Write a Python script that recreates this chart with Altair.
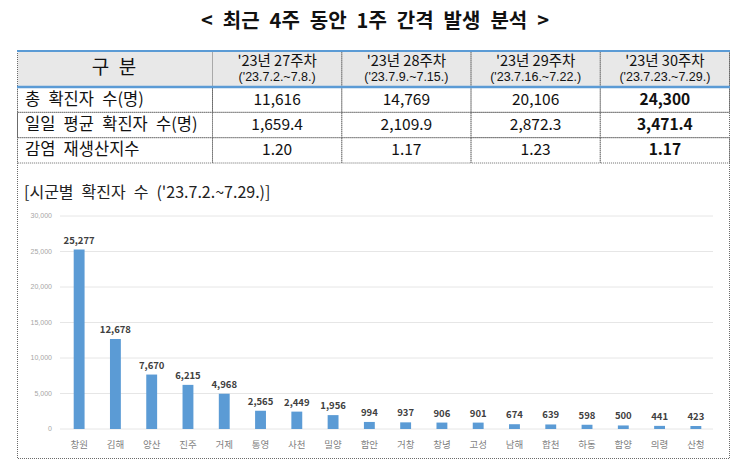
import altair as alt
import pandas as pd

# ---------------- data ----------------
SP = "\u2002"  # wide word space as in the source document
title_text = SP.join(["<", "최근", "4주", "동안", "1주", "간격", "발생", "분석", ">"])
header_label = "구" + SP + "분"
weeks = ["'23년 27주차", "'23년 28주차", "'23년 29주차", "'23년 30주차"]
week_ranges = ["('23.7.2.~7.8.)", "('23.7.9.~7.15.)", "('23.7.16.~7.22.)", "('23.7.23.~7.29.)"]
row_labels = [SP.join(["총", "확진자", "수(명)"]),
              SP.join(["일일", "평균", "확진자", "수(명)"]),
              SP.join(["감염", "재생산지수"])]
total_cases = [11616, 14769, 20106, 24300]
daily_avg = [1659.4, 2109.9, 2872.3, 3471.4]
rt_values = [1.20, 1.17, 1.23, 1.17]

subtitle_text = SP.join(["[시군별", "확진자", "수", "('23.7.2.~7.29.)]"])
cities = ["창원", "김해", "양산", "진주", "거제", "통영", "사천", "밀양", "함안",
          "거창", "창녕", "고성", "남해", "합천", "하동", "함양", "의령", "산청"]
city_cases = [25277, 12678, 7670, 6215, 4968, 2565, 2449, 1956, 994,
              937, 906, 901, 674, 639, 598, 500, 441, 423]
y_ticks = [0, 5000, 10000, 15000, 20000, 25000, 30000]

# ---------------- tables ----------------
FONT = "Noto Sans CJK KR"
weeks_df = pd.DataFrame({"week": weeks, "range": week_ranges})
rows = []
for i, w in enumerate(weeks):
    rows.append({"week": w, "row": row_labels[0], "txt": f"{total_cases[i]:,d}", "bold": i == 3})
    rows.append({"week": w, "row": row_labels[1], "txt": f"{daily_avg[i]:,.1f}", "bold": i == 3})
    rows.append({"week": w, "row": row_labels[2], "txt": f"{rt_values[i]:.2f}", "bold": i == 3})
cells_df = pd.DataFrame(rows)
rows_df = pd.DataFrame({"row": row_labels})
one = pd.DataFrame({"a": [0]})
city_df = pd.DataFrame({"city": cities, "cases": city_cases})
ticks_df = pd.DataFrame({"tick": y_ticks})

wk_scale = alt.Scale(domain=weeks, range=[212.5, 729.5], paddingInner=0, paddingOuter=0)
row_scale = alt.Scale(domain=row_labels, range=[87, 163], paddingInner=0, paddingOuter=0)
city_scale = alt.Scale(domain=cities, range=[61, 714], paddingInner=0.7, paddingOuter=0.35)
val_scale = alt.Scale(domain=[0, 30000], range=[429, 216])

WX = alt.X("week:N", scale=wk_scale, axis=None)
RY = alt.Y("row:N", scale=row_scale, axis=None)
CX = alt.X("city:N", scale=city_scale, axis=None)

DOT = dict(stroke="#6b6b6b", strokeDash=[1, 1], strokeWidth=1, fillOpacity=0)

title = alt.Chart(one).mark_text(text=title_text, font=FONT, fontSize=20, fontWeight="bold",
                                  color="#111111", align="center", baseline="middle").encode(
    x=alt.value(375), y=alt.value(22))

header_bg = alt.Chart(one).mark_rect(fill="#e8e8e8").encode(
    x=alt.value(17.5), x2=alt.value(729.5), y=alt.value(51), y2=alt.value(87))

header_cells = alt.Chart(weeks_df).mark_rect(**DOT).encode(
    x=WX, y=alt.value(51), y2=alt.value(87))

body_cells = alt.Chart(cells_df).mark_rect(**DOT).encode(x=WX, y=RY)

label_cells = alt.Chart(rows_df).mark_rect(**DOT).encode(
    x=alt.value(17.5), x2=alt.value(212.5), y=RY)

outer_box = alt.Chart(one).mark_rect(**DOT).encode(
    x=alt.value(17.5), x2=alt.value(729.5), y=alt.value(51), y2=alt.value(458.5))

blue_top = alt.Chart(one).mark_rule(color="#5b9bd5", strokeWidth=2).encode(
    x=alt.value(17), x2=alt.value(730), y=alt.value(51))
blue_mid = alt.Chart(one).mark_rule(color="#5b9bd5", strokeWidth=2.5).encode(
    x=alt.value(17), x2=alt.value(730), y=alt.value(87))

header_txt = alt.Chart(one).mark_text(text=header_label, font=FONT, fontSize=19,
                                       color="#111111", baseline="middle").encode(
    x=alt.value(114), y=alt.value(68))

week_txt = alt.Chart(weeks_df).mark_text(font=FONT, fontSize=14.5, color="#111111",
                                         baseline="middle").encode(
    x=WX, y=alt.value(62), text="week:N")
range_txt = alt.Chart(weeks_df).mark_text(font="Liberation Sans", fontSize=12.5, color="#111111",
                                          baseline="middle").encode(
    x=WX, y=alt.value(76.5), text="range:N")

row_txt = alt.Chart(rows_df).mark_text(font=FONT, fontSize=16.5, color="#111111", align="left",
                                       baseline="middle").encode(
    x=alt.value(25), y=RY, text="row:N")

val_reg = alt.Chart(cells_df).transform_filter("!datum.bold").mark_text(
    font=FONT, fontSize=15.5, color="#111111", baseline="middle").encode(x=WX, y=RY, text="txt:N")
val_bold = alt.Chart(cells_df).transform_filter("datum.bold").mark_text(
    font=FONT, fontSize=15.5, fontWeight="bold", color="#111111", baseline="middle").encode(
    x=WX, y=RY, text="txt:N")

subtitle = alt.Chart(one).mark_text(text=subtitle_text, font=FONT, fontSize=16, color="#222222",
                                     align="left", baseline="middle").encode(
    x=alt.value(24), y=alt.value(193))

grid = alt.Chart(ticks_df).mark_rule(color="#e6e6e6", strokeWidth=1).encode(
    y=alt.Y("tick:Q", scale=val_scale, axis=None), x=alt.value(60), x2=alt.value(713))
tick_lbl = alt.Chart(ticks_df).mark_text(font="Liberation Sans", fontSize=7, color="#a6a6a6",
                                         align="right", baseline="middle").encode(
    y=alt.Y("tick:Q", scale=val_scale, axis=None), x=alt.value(52),
    text=alt.Text("tick:Q", format=","))

bars = alt.Chart(city_df).mark_bar(color="#5b9bd5").encode(
    x=CX, y=alt.Y("cases:Q", scale=val_scale, axis=None))
bar_lbl = alt.Chart(city_df).mark_text(font=FONT, fontSize=9.5, fontWeight="bold", color="#404040",
                                       baseline="bottom", dy=-4).encode(
    x=CX, y=alt.Y("cases:Q", scale=val_scale, axis=None), text=alt.Text("cases:Q", format=","))
city_lbl = alt.Chart(city_df).mark_text(font=FONT, fontSize=9.5, color="#7f7f7f",
                                        baseline="middle").encode(
    x=CX, y=alt.value(445), text="city:N")

chart = alt.layer(
    header_bg, header_cells, body_cells, label_cells, outer_box, blue_top, blue_mid,
    title, header_txt, week_txt, range_txt, row_txt, val_reg, val_bold,
    subtitle, grid, tick_lbl, bars, bar_lbl, city_lbl
).resolve_scale(x="independent", y="independent").properties(
    width=745, height=472, autosize=alt.AutoSizeParams(type="none"), padding=0,
    background="white"
).configure_view(stroke=None)

chart.save("out.html", embed_options={"renderer": "svg", "actions": False})
